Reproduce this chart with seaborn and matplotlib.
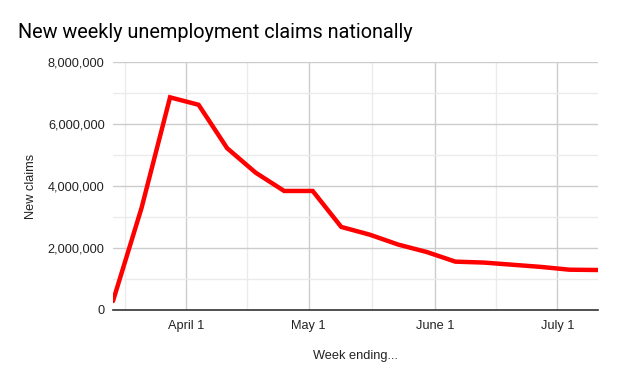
import matplotlib
matplotlib.use("Agg")
import matplotlib.pyplot as plt
import matplotlib.dates as mdates
import matplotlib.ticker as mticker
import seaborn as sns
import pandas as pd
import numpy as np

weeks = ["2020-03-14", "2020-03-21", "2020-03-28", "2020-04-04", "2020-04-11", "2020-04-18",
         "2020-04-25", "2020-05-02", "2020-05-09", "2020-05-16", "2020-05-23", "2020-05-30",
         "2020-06-06", "2020-06-13", "2020-06-20", "2020-06-27", "2020-07-04", "2020-07-11"]
claims = [290000, 3290000, 6860000, 6620000, 5220000, 4430000,
          3840000, 3840000, 2680000, 2430000, 2110000, 1870000,
          1560000, 1530000, 1460000, 1390000, 1300000, 1290000]
x_ticks = ["2020-04-01", "2020-05-01", "2020-06-01", "2020-07-01"]
x_tick_labels = ["April 1", "May 1", "June 1", "July 1"]

sns.set_style("white")
plt.rcParams['font.family'] = ['Liberation Sans', 'DejaVu Sans']

df = pd.DataFrame({"week": pd.to_datetime(weeks), "claims": claims})

fig = plt.figure(figsize=(6.18, 3.82), dpi=100)
ax = fig.add_axes([113/618, (382-310)/382, (598-113)/618, (310-62)/382])

sns.lineplot(data=df, x="week", y="claims", ax=ax, color="#ff0000", linewidth=3.2,
             solid_joinstyle="miter")

ax.set_xlim(pd.Timestamp("2020-03-14"), pd.Timestamp("2020-07-11"))
ax.set_ylim(0, 8000000)

major = [mdates.date2num(pd.Timestamp(d)) for d in x_ticks]
ax.set_xticks(major)
ax.set_xticklabels(x_tick_labels)
minor = [major[0] - (major[1]-major[0])/2] + [(a+b)/2 for a, b in zip(major[:-1], major[1:])]
ax.set_xticks(minor, minor=True)

ax.yaxis.set_major_locator(mticker.MultipleLocator(2000000))
ax.yaxis.set_minor_locator(mticker.MultipleLocator(1000000))
ax.yaxis.set_major_formatter(mticker.FuncFormatter(lambda v, p: f"{int(v):,}"))

ax.grid(which="major", color="#cccccc", linewidth=1)
ax.grid(which="minor", color="#ebebeb", linewidth=1)
ax.set_axisbelow(True)
for s in ["top", "right", "left"]:
    ax.spines[s].set_visible(False)
ax.spines["bottom"].set_color("#333333")
ax.spines["bottom"].set_linewidth(1.2)
ax.spines["bottom"].set_zorder(1)

ax.tick_params(which="both", length=0, labelsize=9.2, colors="#222222")
ax.tick_params(axis="x", pad=7)
ax.tick_params(axis="y", pad=6)

ax.set_xlabel("Week ending...", fontsize=9.2, color="#222222", labelpad=13)
ax.set_ylabel("New claims", fontsize=9.2, color="#222222", labelpad=19)
ax.yaxis.set_label_coords(-(113-37)/485, 0.5)

fig.text(18/618, 1 - 32/382, "New weekly unemployment claims nationally", fontsize=14.3,
         color="#000000", va="center", ha="left", family=["Roboto", "DejaVu Sans"])

fig.savefig("out.png", dpi=100)
